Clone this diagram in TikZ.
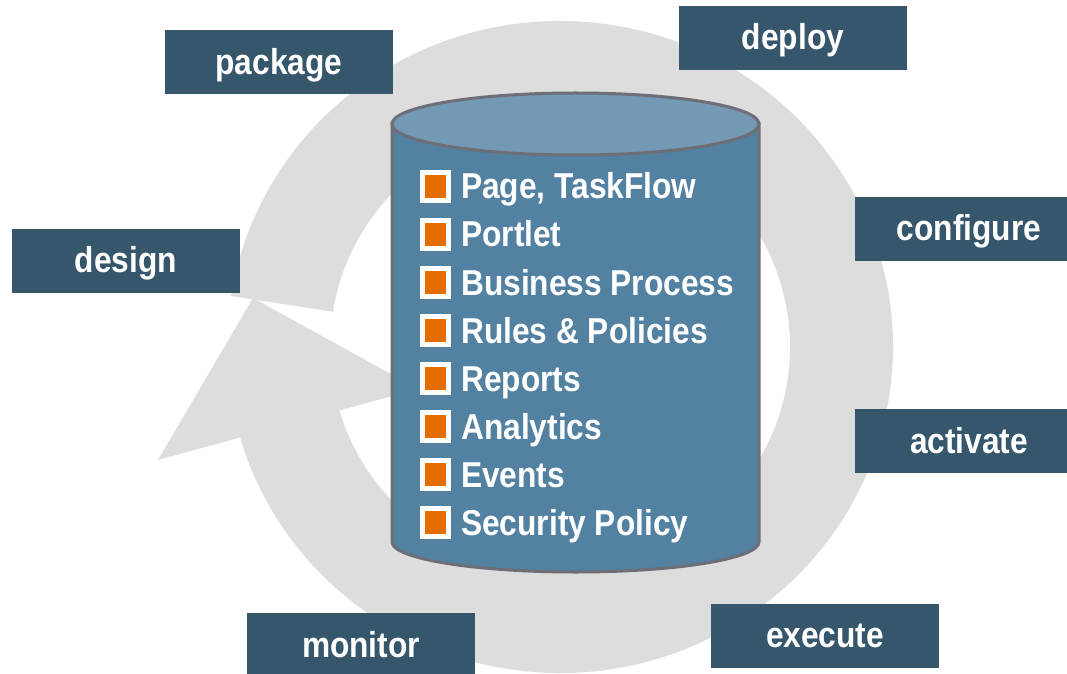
\documentclass[tikz,border=0pt]{standalone}
\usepackage{fontspec}
\setmainfont{Liberation Sans}
\newfontfamily\lblfont[FakeStretch=0.88]{Liberation Sans}
\definecolor{ringgrey}{HTML}{DDDDDD}
\definecolor{boxblue}{HTML}{36566B}
\definecolor{cylside}{HTML}{5281A1}
\definecolor{cyltop}{HTML}{7399B4}
\definecolor{cyledge}{HTML}{6E6E76}
\definecolor{bulletorange}{HTML}{E66E00}
\begin{document}
\begin{tikzpicture}[x=1pt,y=1pt,
  stagebox/.style={fill=boxblue, text=white, minimum width=228pt, minimum height=64pt,
    inner sep=0pt, text height=24pt, text depth=0pt,
    font=\lblfont\bfseries\fontsize{36}{40}\selectfont},
  itemtext/.style={text=white, anchor=base west, inner sep=0pt,
    font=\lblfont\bfseries\fontsize{36}{40}\selectfont},
  bulletbox/.style={fill=bulletorange, draw=white, line width=5pt,
    minimum width=26pt, minimum height=28pt, inner sep=0pt},
  cylline/.style={draw=cyledge, line width=3pt}]
\useasboundingbox (0,0) rectangle (1067,673);
\clip (0,0) rectangle (1067,673);
% circular arrow
\fill[ringgrey] (231.1,377.0) arc[start angle=171, end angle=-164, x radius=333, y radius=326]
  -- (338.9,264.0) arc[start angle=-164, end angle=171, x radius=230, y radius=225] -- cycle;
\fill[ringgrey] (158,213) -- (418,284) -- (253,375) -- cycle;
% cylinder
\filldraw[fill=cylside, cylline] (392,549) -- (392,131)
  arc[start angle=180, end angle=360, x radius=183.5, y radius=30] -- (759,549) -- cycle;
\filldraw[fill=cyltop, cylline] (575.5,549) ellipse[x radius=183.5, y radius=31];
% items
\foreach \t [count=\i from 0] in {{Page, TaskFlow},Portlet,Business Process,Rules \& Policies,Reports,Analytics,Events,Security Policy}{
  \node[bulletbox] (bul\i) at (435.5,{486.5-48*\i}) {};
  \node[itemtext] (item\i) at (461,{474-48*\i}) {\t};
}
% stage labels
\node[stagebox] (package) at (279,610.5) {package};
\node[stagebox] (deploy) at (793,635) {deploy};
\node[stagebox] (design) at (126,412) {design};
\node[stagebox] (configure) at (969,444) {configure};
\node[stagebox] (activate) at (969,232) {activate};
\node[stagebox] (execute) at (825,37.5) {execute};
\node[stagebox] (monitor) at (361,28) {monitor};
\end{tikzpicture}
\end{document}
